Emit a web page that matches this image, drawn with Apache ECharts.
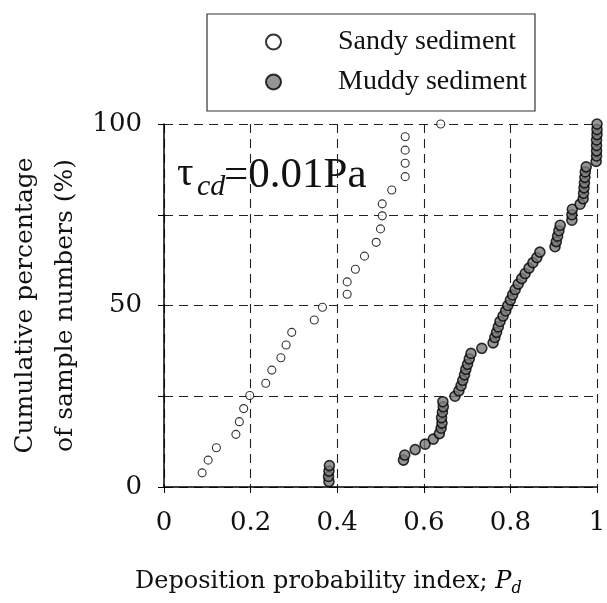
<!DOCTYPE html>
<html>
<head>
<meta charset="utf-8">
<script src="https://cdn.jsdelivr.net/npm/echarts@6/dist/echarts.min.js"></script>
<style>
html,body{margin:0;padding:0;background:#fff;}
#chart{width:607px;height:603px;}
</style>
</head>
<body>
<div id="chart"></div>
<script>
// Sandy sediment: deposition probability index and cumulative percentage
const sandyPd  = [0.088,0.102,0.121,0.166,0.174,0.184,0.198,0.235,0.249,0.270,0.282,0.295,0.347,0.366,0.423,0.423,0.442,0.463,0.490,0.500,0.504,0.504,0.526,0.557,0.557,0.557,0.557,0.639];
const sandyCum = [3.9,7.4,10.8,14.5,18.0,21.6,25.2,28.6,32.2,35.6,39.1,42.6,46.0,49.5,53.1,56.5,60.0,63.6,67.4,71.1,74.7,78.0,81.8,85.5,89.2,92.8,96.5,100];

// Muddy sediment
const muddyPd  = [0.381,0.380,0.381,0.382,0.553,0.556,0.580,0.603,0.622,
  0.636,0.640,0.642,0.641,0.643,0.645,0.644,
  0.672,0.681,0.686,0.690,0.694,0.697,0.701,0.705,0.709,
  0.734,0.760,0.764,0.768,0.772,0.776,
  0.783,0.789,0.794,0.800,0.805,0.811,0.818,0.826,0.834,0.843,0.852,0.861,0.868,
  0.903,0.906,0.909,0.912,0.915,
  0.942,0.942,0.943,
  0.961,0.968,0.969,0.970,0.971,0.972,0.973,0.975,
  0.998,0.999,0.999,0.999,0.999,1.000,1.000,1.000];
const muddyCum = [1.5,2.9,4.4,5.9,7.4,8.8,10.3,11.8,13.2,
  14.7,16.2,17.6,19.1,20.6,22.1,23.5,
  25.0,26.5,27.9,29.4,30.9,32.4,33.8,35.3,36.8,
  38.2,39.7,41.2,42.6,44.1,45.6,
  47.1,48.5,50.0,51.5,52.9,54.4,55.9,57.4,58.8,60.3,61.8,63.2,64.7,
  66.2,67.6,69.1,70.6,72.1,
  73.5,75.0,76.5,
  77.9,79.4,80.9,82.4,83.8,85.3,86.8,88.2,
  89.7,91.2,92.6,94.1,95.6,97.1,98.5,100];

const xTickLabels = ['0','0.2','0.4','0.6','0.8','1'];
const yTickLabels = ['0','','50','','100'];
const seriesNames = ['Sandy sediment','Muddy sediment'];

const sandy = sandyPd.map((x,i)=>[x,sandyCum[i]]);
const muddy = muddyPd.map((x,i)=>[x,muddyCum[i]]);

const chart = echarts.init(document.getElementById('chart'), null, {renderer:'canvas'});
const serif = 'DejaVu Serif';
const times = 'Liberation Serif';

chart.setOption({
  animation:false,
  backgroundColor:'#ffffff',
  grid:{left:164,right:10,top:124,bottom:116,containLabel:false,outerBoundsMode:'none'},
  legend:{
    orient:'vertical',
    left:207, top:14,
    padding:[13,8,14,58],
    itemGap:10,
    itemWidth:15, itemHeight:15,
    borderColor:'#333', borderWidth:1.2,
    icon:'circle',
    textStyle:{fontFamily:times,fontSize:28,color:'#111',lineHeight:30,padding:[0,0,0,52]},
    data:seriesNames
  },
  xAxis:{
    type:'value',min:0,max:1,interval:0.2,
    axisLine:{show:true,onZero:false,lineStyle:{color:'#000',width:1.5}},
    axisTick:{show:true,length:6,lineStyle:{color:'#000',width:1}},
    axisLabel:{
      formatter:v=>xTickLabels[Math.round(v/0.2)],
      fontFamily:serif,fontSize:26,color:'#111',margin:23
    },
    splitLine:{show:true,lineStyle:{type:[9,6],color:'#222',width:1.1}}
  },
  yAxis:{
    type:'value',min:0,max:100,interval:25,
    name:'Cumulative percentage\nof sample numbers (%)',
    nameLocation:'middle',nameGap:79,nameRotate:90,nameMoveOverlap:false,
    nameTextStyle:{fontFamily:serif,fontSize:25,color:'#111',lineHeight:40},
    axisLine:{show:true,onZero:false,lineStyle:{color:'#000',width:1.5}},
    axisTick:{show:true,length:6,lineStyle:{color:'#000',width:1}},
    axisLabel:{
      formatter:v=>yTickLabels[Math.round(v/25)],
      fontFamily:serif,fontSize:26,color:'#111',margin:22
    },
    splitLine:{show:true,lineStyle:{type:[9,6],color:'#222',width:1.1}}
  },
  graphic:[
    {type:'text',left:177,top:154,style:{text:'τ',font:'41px "Liberation Serif"',fill:'#111'}},
    {type:'text',left:197,top:172,style:{text:'cd',font:'italic 30px "Liberation Serif"',fill:'#111'}},
    {type:'text',left:224,top:154,style:{text:'=0.01Pa',font:'43px "Liberation Serif"',fill:'#111'}},
    {type:'text',left:135,top:570,style:{
      text:'{a|Deposition probability index; }{p|P}{d|d}',
      rich:{
        a:{fontFamily:serif,fontSize:24,fill:'#111',color:'#111'},
        p:{fontFamily:serif,fontSize:24,fontStyle:'italic',color:'#111'},
        d:{fontFamily:serif,fontSize:16,fontStyle:'italic',color:'#111',padding:[14,0,0,0]}
      }
    }}
  ],
  series:[
    {type:'scatter',name:seriesNames[0],data:sandy,symbol:'circle',symbolSize:8,clip:false,
     itemStyle:{color:'#ffffff',borderColor:'#000',borderWidth:1.1}},
    {type:'scatter',name:seriesNames[1],data:muddy,symbol:'circle',symbolSize:10,clip:false,
     itemStyle:{color:'#7a7a7a',borderColor:'#000',borderWidth:1.6}}
  ]
});
</script>
</body>
</html>
